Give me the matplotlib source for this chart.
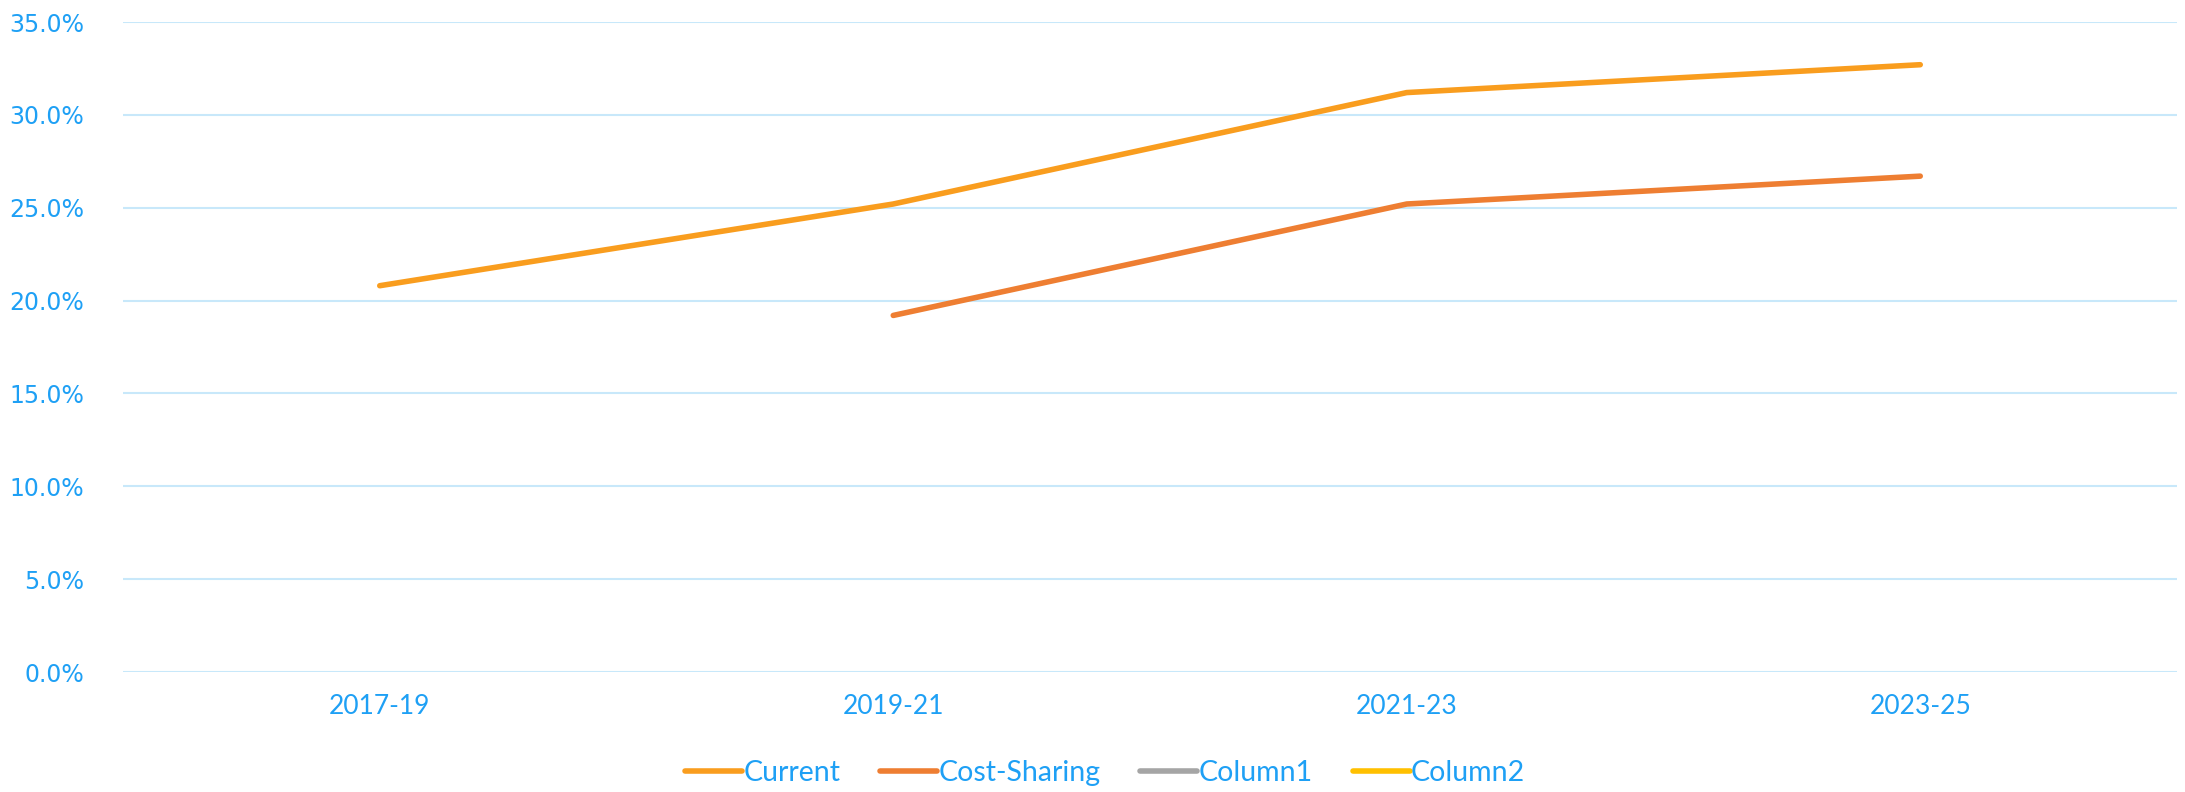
import numpy as np
import matplotlib.pyplot as plt
from matplotlib.ticker import PercentFormatter

periods = ['2017-19', '2019-21', '2021-23', '2023-25']
current = [20.8, 25.2, 31.2, 32.7]
cost_sharing = [np.nan, 19.2, 25.2, 26.7]
column1 = [np.nan, np.nan, np.nan, np.nan]
column2 = [np.nan, np.nan, np.nan, np.nan]

text_blue = '#1EA0F5'
grid_blue = '#C8E8FA'

fig = plt.figure(figsize=(21.85, 7.92), dpi=100)
ax = fig.add_axes([123 / 2185, 1 - 672 / 792, (2177 - 123) / 2185, (672 - 22) / 792])

x = np.arange(len(periods))
series = [
    ('Current', current, '#F99D1E'),
    ('Cost-Sharing', cost_sharing, '#EE7E32'),
    ('Column1', column1, '#A5A5A5'),
    ('Column2', column2, '#FFC000'),
]
for name, vals, col in series:
    ax.plot(x, vals, color=col, lw=4, solid_capstyle='round', label=name)

ax.set_xlim(-0.5, len(periods) - 0.5)
ax.set_ylim(0, 35)
ax.set_yticks(np.arange(0, 36, 5))
ax.yaxis.set_major_formatter(PercentFormatter(decimals=1))
ax.set_xticks(x)
ax.set_xticklabels(periods, fontfamily='Lato', fontsize=19)
for lab in ax.get_yticklabels():
    lab.set_fontfamily('DejaVu Sans')
    lab.set_fontsize(17)
ax.grid(axis='y', color=grid_blue, lw=1.5)
ax.set_axisbelow(True)
for s in ax.spines.values():
    s.set_visible(False)
ax.tick_params(axis='both', length=0, colors=text_blue)
ax.tick_params(axis='y', pad=28)
ax.tick_params(axis='x', pad=16)

leg = fig.legend(loc='center', bbox_to_anchor=(793 * 1.3935 / 2185, 1 - 555 * 1.3935 / 792), ncol=4,
                 frameon=False, prop={'family': 'Lato', 'size': 20.5}, handlelength=2.0,
                 handletextpad=0.05, columnspacing=1.4)
for t in leg.get_texts():
    t.set_color(text_blue)

fig.savefig('out.png', dpi=100)
